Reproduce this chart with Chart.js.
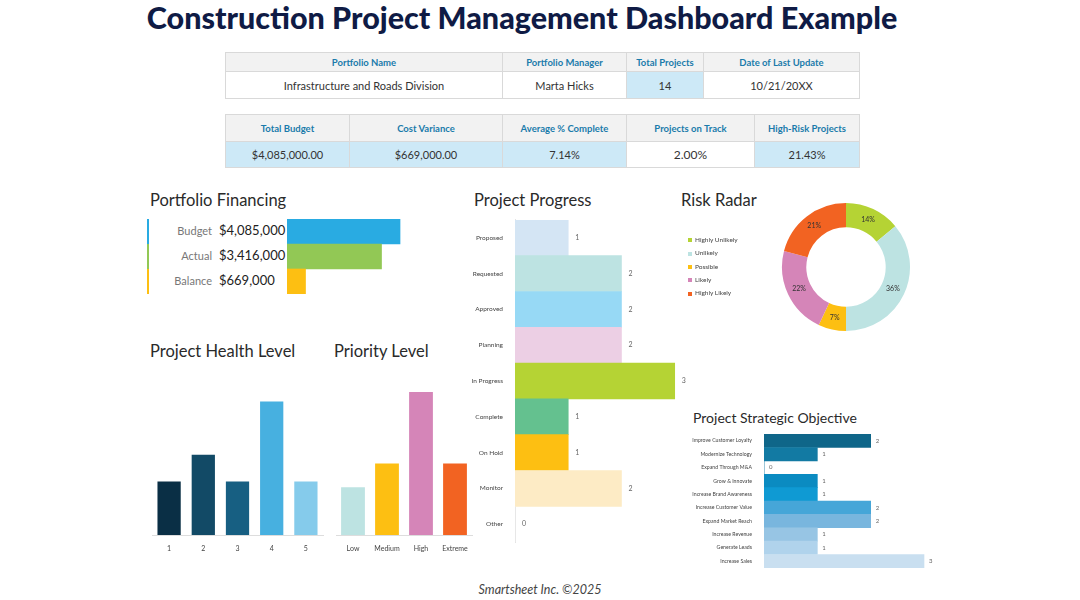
<!DOCTYPE html>
<html>
<head>
<meta charset="utf-8">
<script src="https://cdn.jsdelivr.net/npm/chart.js@4.4.0/dist/chart.umd.min.js"></script>
<style>
  body { margin: 0; background: #fff; font-family: Lato, "Open Sans", sans-serif; color: #222; }
  #page { position: relative; width: 1080px; height: 600px; overflow: hidden; }
  .abs { position: absolute; }
  h1 { position: absolute; left: -18px; width: 1080px; top: -1px; margin: 0; text-align: center;
       font-family: Lato, sans-serif; font-weight: 900; font-size: 30.5px; color: #0f1b45; }
  table { position: absolute; border-collapse: collapse; table-layout: fixed; }
  td { border: 1px solid #d9d9d9; text-align: center; padding: 0; font-size: 11px; color: #333; }
  td.h { background: #f2f2f2; color: #1a7bab; font-weight: 700; font-size: 9.5px; }
  td.b { background: #cde9f7; }
  .ct { position: absolute; font-size: 16.5px; color: #2a2a2a; white-space: nowrap; }
  .foot { position: absolute; top: 582px; left: 0; width: 1080px; text-align: center;
          font-style: italic; font-size: 12.5px; color: #444; }
  .fin-row { position: absolute; left: 147px; width: 138px; height: 25px; border-left: 2px solid; }
  .fin-row .l { position: absolute; right: 75px; top: 5px; font-size: 11px; color: #777; }
  .fin-row .v { position: absolute; left: 70px; top: 3px; font-size: 13px; color: #222; }
  .leg { position: absolute; left: 688px; font-size: 6.5px; color: #444; white-space: nowrap; }
  .leg span { display: inline-block; width: 4px; height: 4px; margin-right: 3px; vertical-align: middle; }
</style>
</head>
<body>
<div id="page">
  <h1>Construction Project Management Dashboard Example</h1>

  <table style="left:225px; top:52px; width:634px;">
    <colgroup><col style="width:277px"><col style="width:124px"><col style="width:77px"><col style="width:156px"></colgroup>
    <tr style="height:19px"><td class="h">Portfolio Name</td><td class="h">Portfolio Manager</td><td class="h">Total Projects</td><td class="h">Date of Last Update</td></tr>
    <tr style="height:27px"><td>Infrastructure and Roads Division</td><td>Marta Hicks</td><td class="b">14</td><td>10/21/20XX</td></tr>
  </table>

  <table style="left:225px; top:114px; width:634px;">
    <colgroup><col style="width:124px"><col style="width:153px"><col style="width:124px"><col style="width:128px"><col style="width:105px"></colgroup>
    <tr style="height:27px"><td class="h">Total Budget</td><td class="h">Cost Variance</td><td class="h">Average % Complete</td><td class="h">Projects on Track</td><td class="h">High-Risk Projects</td></tr>
    <tr style="height:26px"><td class="b">$4,085,000.00</td><td class="b">$669,000.00</td><td class="b">7.14%</td><td style="font-size:12px">2.00%</td><td class="b">21.43%</td></tr>
  </table>

  <div class="ct" style="left:150px; top:190px;">Portfolio Financing</div>
  <div class="ct" style="left:474px; top:190px;">Project Progress</div>
  <div class="ct" style="left:681px; top:190px;">Risk Radar</div>
  <div class="ct" style="left:150px; top:341px;">Project Health Level</div>
  <div class="ct" style="left:334px; top:341px;">Priority Level</div>
  <div class="ct" style="left:693px; top:409px; font-size:14px;">Project Strategic Objective</div>

  <div id="finLabels"></div>
  <div class="abs" style="left:287px; top:219px; width:140px; height:75px;"><canvas id="cFin"></canvas></div>
  <div class="abs" style="left:460px; top:212px; width:236px; height:338px;"><canvas id="cProg"></canvas></div>
  <div id="riskLegend"></div>
  <div class="abs" style="left:780px; top:201px; width:132px; height:132px;"><canvas id="cRisk"></canvas></div>
  <div class="abs" style="left:150px; top:380px; width:175px; height:175px;"><canvas id="cHealth"></canvas></div>
  <div class="abs" style="left:334px; top:380px; width:140px; height:175px;"><canvas id="cPrio"></canvas></div>
  <div class="abs" style="left:680px; top:427px; width:260px; height:148px;"><canvas id="cObj"></canvas></div>

  <div class="foot">Smartsheet Inc. ©2025</div>
</div>

<script>
// data
const finLabels = ['Budget', 'Actual', 'Balance'];
const finValues = [4085000, 3416000, 669000];
const finColors = ['#29abe2', '#92c855', '#fdbf12'];

const progLabels = ['Proposed', 'Requested', 'Approved', 'Planning', 'In Progress', 'Complete', 'On Hold', 'Monitor', 'Other'];
const progValues = [1, 2, 2, 2, 3, 1, 1, 2, 0];
const progColors = ['#d4e5f4', '#bde3e2', '#97d9f5', '#eccfe4', '#b5d334', '#64c18f', '#fdbf12', '#fdebc5', '#eeeeee'];

const riskLabels = ['Highly Unlikely', 'Unlikely', 'Possible', 'Likely', 'Highly Likely'];
const riskValues = [14, 36, 7, 22, 21];
const riskColors = ['#b5d334', '#bde3e2', '#fdbf12', '#d585b8', '#f26322'];

const healthLabels = ['1', '2', '3', '4', '5'];
const healthValues = [2, 3, 2, 5, 2];
const healthColors = ['#0a2f45', '#124a66', '#175f82', '#47b0e0', '#85cbeb'];

const prioLabels = ['Low', 'Medium', 'High', 'Extreme'];
const prioValues = [2, 3, 6, 3];
const prioColors = ['#bde3e2', '#fdbf12', '#d585b8', '#f26322'];

const objLabels = ['Improve Customer Loyalty', 'Modernize Technology', 'Expand Through M&A', 'Grow & Innovate',
  'Increase Brand Awareness', 'Increase Customer Value', 'Expand Market Reach', 'Increase Revenue',
  'Generate Leads', 'Increase Sales'];
const objValues = [2, 1, 0, 1, 1, 2, 2, 1, 1, 3];
const objColors = ['#0f6689', '#127aa3', '#0b8bc1', '#0b8bc1', '#0f9ad3', '#46a6d8', '#79b6de', '#97c5e4', '#b0d3ec', '#c9dff0'];

const FONT = 'Lato, "Open Sans", sans-serif';
Chart.defaults.font.family = FONT;
Chart.defaults.animation = false;
Chart.defaults.plugins.legend.display = false;
Chart.defaults.plugins.tooltip.enabled = false;

// html bits built from the arrays
let fin = '';
finLabels.forEach((l, i) => {
  fin += '<div class="fin-row" style="top:' + (219 + i * 25) + 'px; border-color:' + finColors[i] + '">' +
    '<span class="l">' + l + '</span><span class="v">$' + finValues[i].toLocaleString('en-US') + '</span></div>';
});
document.getElementById('finLabels').innerHTML = fin;

let leg = '';
riskLabels.forEach((l, i) => {
  leg += '<div class="leg" style="top:' + (236 + i * 13.3) + 'px"><span style="background:' + riskColors[i] + '"></span>' + l + '</div>';
});
document.getElementById('riskLegend').innerHTML = leg;

// value labels at end of horizontal bars
const endLabels = {
  id: 'endLabels',
  afterDatasetsDraw(chart, args, opts) {
    const ctx = chart.ctx;
    const meta = chart.getDatasetMeta(0);
    ctx.save();
    ctx.font = opts.size + 'px ' + FONT;
    ctx.fillStyle = '#666';
    ctx.textBaseline = 'middle';
    meta.data.forEach((bar, i) => {
      ctx.fillText(chart.data.datasets[0].data[i], bar.x + opts.gap, bar.y);
    });
    ctx.restore();
  }
};

function hbar(id, labels, values, colors, max, axisW, tickSize, labelSize, gap) {
  new Chart(document.getElementById(id), {
    type: 'bar',
    data: { labels: labels, datasets: [{ data: values, backgroundColor: colors, categoryPercentage: 1, barPercentage: 1 }] },
    options: {
      indexAxis: 'y', responsive: true, maintainAspectRatio: false,
      layout: { padding: 0 },
      scales: {
        x: { display: false, min: 0, max: max },
        y: {
          grid: { display: false }, border: { color: '#e3e3e3' },
          ticks: { color: '#444', font: { size: tickSize }, padding: 4 },
          afterFit: s => { s.width = axisW; }
        }
      },
      plugins: { endLabels: { size: labelSize, gap: gap } }
    },
    plugins: [endLabels]
  });
}

new Chart(document.getElementById('cFin'), {
  type: 'bar',
  data: { labels: finLabels, datasets: [{ data: finValues, backgroundColor: finColors, categoryPercentage: 1, barPercentage: 1 }] },
  options: {
    indexAxis: 'y', responsive: true, maintainAspectRatio: false,
    scales: { x: { display: false, min: 0, max: 5060000 }, y: { display: false } }
  }
});

hbar('cProg', progLabels, progValues, progColors, 3.4, 55, 6.5, 7, 7);
hbar('cObj', objLabels, objValues, objColors, 3.3, 84, 5.2, 6, 5);

new Chart(document.getElementById('cRisk'), {
  type: 'doughnut',
  data: { labels: riskLabels, datasets: [{ data: riskValues, backgroundColor: riskColors, borderWidth: 0 }] },
  options: {
    responsive: true, maintainAspectRatio: false, cutout: '62%',
    layout: { padding: 2 }
  },
  plugins: [{
    id: 'pct',
    afterDatasetsDraw(chart) {
      const ctx = chart.ctx;
      ctx.save();
      ctx.font = '7px ' + FONT;
      ctx.fillStyle = '#333';
      ctx.textAlign = 'center';
      ctx.textBaseline = 'middle';
      chart.getDatasetMeta(0).data.forEach((arc, i) => {
        const p = arc.tooltipPosition();
        ctx.fillText(riskValues[i] + '%', p.x, p.y);
      });
      ctx.restore();
    }
  }]
});

function vbar(id, labels, values, colors, max, cat) {
  new Chart(document.getElementById(id), {
    type: 'bar',
    data: { labels: labels, datasets: [{ data: values, backgroundColor: colors, categoryPercentage: cat, barPercentage: 1 }] },
    options: {
      responsive: true, maintainAspectRatio: false,
      layout: { padding: { left: 2, right: 2 } },
      scales: {
        y: { display: false, min: 0, max: max },
        x: { grid: { display: false }, border: { color: '#dddddd' }, ticks: { color: '#444', font: { size: 7 }, padding: 2 },
             afterFit: s => { s.height = 20; } }
      }
    }
  });
}
vbar('cHealth', healthLabels, healthValues, healthColors, 5.8, 0.68);
vbar('cPrio', prioLabels, prioValues, prioColors, 6.5, 0.7);
</script>
</body>
</html>
